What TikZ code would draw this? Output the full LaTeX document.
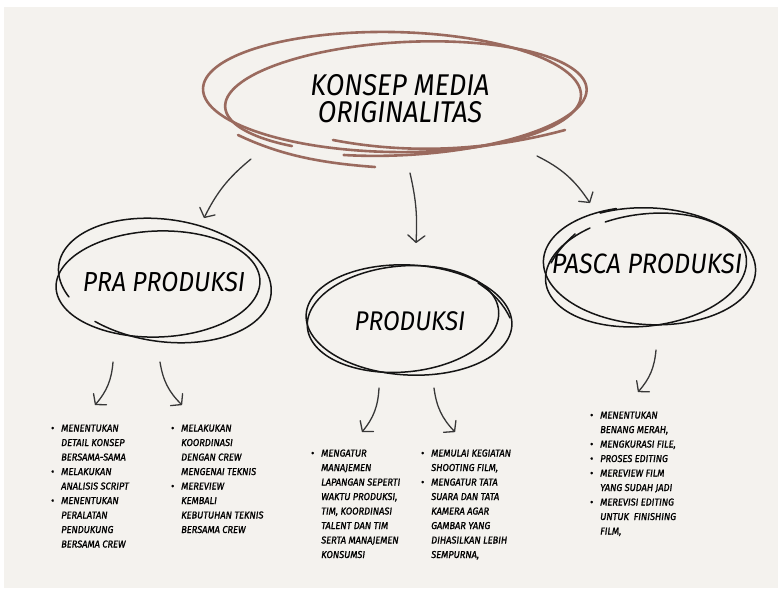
\documentclass[tikz,border=0pt]{standalone}
\usepackage{fontspec}
\setmainfont{Fira Sans}
\newfontfamily\headfont{Fira Sans}[FakeStretch=0.9]
\newfontfamily\listfont{Fira Sans}[FakeStretch=0.93, FakeBold=1.2]
\usetikzlibrary{arrows.meta}

\definecolor{paper}{HTML}{F4F2EE}
\definecolor{clay}{HTML}{9A6A5E}
\definecolor{ink}{HTML}{151515}
\definecolor{pencil}{HTML}{383838}

% hand-drawn loop: style, centre, radii, tilt, angle range, growth of the radii along the stroke
\def\sketchloop[#1](#2,#3)#4#5#6#7#8#9{%
  \draw[#1] plot[smooth, samples=140, domain=#7:#8, variable=\t]
   ({#2 + (1+(#9)*(\t-(#7))/((#8)-(#7)))*((#4)*cos(\t)*cos(#6) - (#5)*sin(\t)*sin(#6))},
    {#3 + (1+(#9)*(\t-(#7))/((#8)-(#7)))*((#4)*cos(\t)*sin(#6) + (#5)*sin(\t)*cos(#6))});}

\newcommand\dotmark{{\upshape\textbullet}}

\tikzset{
  claystroke/.style={draw=clay, line width=2.6pt, line cap=round},
  inkstroke/.style={draw=ink, line width=1.5pt, line cap=round},
  flowarrow/.style={draw=pencil, line width=1.3pt, line cap=round, line join=round,
    -{Straight Barb[round, length=7pt, width=17pt]}},
  heading/.style={inner sep=0pt, align=center, text=black},
  notes/.style={inner sep=0pt, anchor=base west, text=black,
    font=\listfont\itshape\fontsize{10}{14.5}\selectfont},
}

\begin{document}
\begin{tikzpicture}[x=1pt, y=-1pt]
  % sheet
  \fill[white] (0,0) rectangle (778,589);
  \fill[paper] (4,7) rectangle (778,588);
  \useasboundingbox (0,0) rectangle (778,589);

  % headings: the title is set as two lines of its own
  \node[heading, font=\headfont\itshape\fontsize{30}{30}\selectfont] (title) at (400,85) {KONSEP MEDIA};
  \node[heading, font=\headfont\itshape\fontsize{30}{30}\selectfont] (title2) at (400,112.5) {ORIGINALITAS};
  \node[heading, font=\headfont\itshape\fontsize{27.5}{27}\selectfont] (pra) at (164,282) {PRA PRODUKSI};
  \node[heading, font=\headfont\itshape\fontsize{27}{27}\selectfont] (prod) at (410,321) {PRODUKSI};
  \node[heading, font=\headfont\itshape\fontsize{28}{28}\selectfont] (pasca) at (647,264) {PASCA PRODUKSI};

  % brown loops round the title
  \sketchloop[claystroke](392,92){189}{60}{1}{100}{460}{0}
  \sketchloop[claystroke](404,98){178}{55}{-3}{130}{470}{0.04}
  \draw[claystroke] (333,140) .. controls (400,153) and (480,153) .. (565,130);
  \draw[claystroke] (238,135) .. controls (280,155) and (320,163) .. (375,167);

  % black loops round the three stages
  \sketchloop[inkstroke](164,280){106}{60}{8}{150}{485}{0.03}
  \sketchloop[inkstroke](158,284){102}{53}{-2}{0}{365}{0}
  \sketchloop[inkstroke](409,320){103}{55}{3}{-20}{345}{0}
  \sketchloop[inkstroke](403,319){96}{53}{-5}{150}{520}{0}
  \draw[inkstroke] (478,283) .. controls (492,292) and (503,303) .. (510,318);
  \sketchloop[inkstroke](650,266){105}{58}{3}{240}{610}{0.02}
  \sketchloop[inkstroke](646,270){101}{56}{-7}{250}{600}{0}
  \draw[inkstroke] (575,234) .. controls (565,243) and (557,252) .. (551,263);

  % arrow ends
  \coordinate (a1s) at (251,159); \coordinate (a1e) at (204,218);
  \coordinate (a2s) at (410,173); \coordinate (a2e) at (416,243);
  \coordinate (a3s) at (537,156); \coordinate (a3e) at (590,203);
  \coordinate (b1s) at (113,362); \coordinate (b1e) at (95,405);
  \coordinate (b2s) at (160,362); \coordinate (b2e) at (182,405);
  \coordinate (b3s) at (379,388); \coordinate (b3e) at (362,432);
  \coordinate (b4s) at (434,388); \coordinate (b4e) at (455,432);
  \coordinate (b5s) at (656,350); \coordinate (b5e) at (638,392);

  \draw[flowarrow] (a1s) to[bend right=12] (a1e);
  \draw[flowarrow] (a2s) to[bend left=8] (a2e);
  \draw[flowarrow] (a3s) to[bend left=15] (a3e);
  \draw[flowarrow] (b1s) to[bend left=18] (b1e);
  \draw[flowarrow] (b2s) to[bend right=18] (b2e);
  \draw[flowarrow] (b3s) to[bend left=18] (b3e);
  \draw[flowarrow] (b4s) to[bend right=18] (b4e);
  \draw[flowarrow] (b5s) to[bend left=18] (b5e);

  % task lists
  \node[notes] (list1) at (51,431.5) {\begin{tabular}[t]{@{}p{10pt}@{}l@{}}
    \dotmark & MENENTUKAN\\ & DETAIL KONSEP\\ & BERSAMA-SAMA\\
    \dotmark & MELAKUKAN\\ & ANALISIS SCRIPT\\
    \dotmark & MENENTUKAN\\ & PERALATAN\\ & PENDUKUNG\\ & BERSAMA CREW
  \end{tabular}};
  \node[notes] (list2) at (171,431.5) {\begin{tabular}[t]{@{}p{10pt}@{}l@{}}
    \dotmark & MELAKUKAN\\ & KOORDINASI\\ & DENGAN CREW\\ & MENGENAI TEKNIS\\
    \dotmark & MEREVIEW\\ & KEMBALI\\ & KEBUTUHAN TEKNIS\\ & BERSAMA CREW
  \end{tabular}};
  \node[notes] (list3) at (311,456.5) {\begin{tabular}[t]{@{}p{10pt}@{}l@{}}
    \dotmark & MENGATUR\\ & MANAJEMEN\\ & LAPANGAN SEPERTI\\ & WAKTU PRODUKSI,\\
    & TIM, KOORDINASI\\ & TALENT DAN TIM\\ & SERTA MANAJEMEN\\ & KONSUMSI
  \end{tabular}};
  \node[notes] (list4) at (421,456.5) {\begin{tabular}[t]{@{}p{10pt}@{}l@{}}
    \dotmark & MEMULAI KEGIATAN\\ & SHOOTING FILM,\\
    \dotmark & MENGATUR TATA\\ & SUARA DAN TATA\\ & KAMERA AGAR\\ & GAMBAR YANG\\
    & DIHASILKAN LEBIH\\ & SEMPURNA,
  \end{tabular}};
  \node[notes] (list5) at (590,418.5) {\begin{tabular}[t]{@{}p{10pt}@{}l@{}}
    \dotmark & MENENTUKAN\\ & BENANG MERAH,\\
    \dotmark & MENGKURASI FILE,\\
    \dotmark & PROSES EDITING\\
    \dotmark & MEREVIEW FILM\\ & YANG SUDAH JADI\\
    \dotmark & MEREVISI EDITING\\ & UNTUK\ \ FINISHING\\ & FILM,
  \end{tabular}};
\end{tikzpicture}
\end{document}
